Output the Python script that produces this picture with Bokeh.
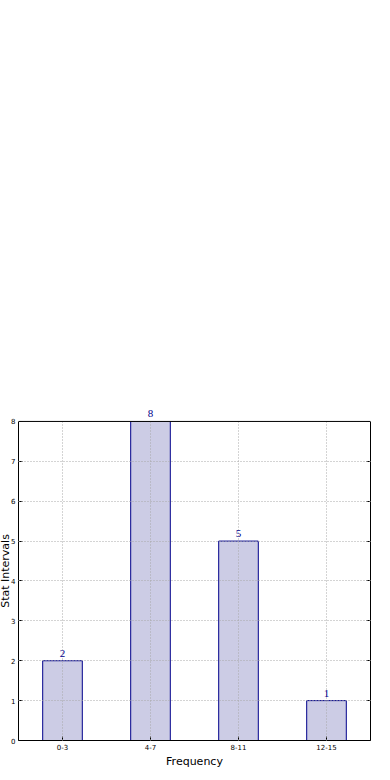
from bokeh.plotting import figure
from bokeh.models import (ColumnDataSource, LabelSet, LinearAxis, FixedTicker,
                          BoxAnnotation, Span)
from bokeh.embed import file_html
from bokeh.resources import INLINE

categories = ["0-3", "4-7", "8-11", "12-15"]
frequencies = [2, 8, 5, 1]
y_ticks = [0, 1, 2, 3, 4, 5, 6, 7, 8]
y_max = 8
x_title = "Frequency"
y_title = "Stat Intervals"

src = ColumnDataSource(dict(cat=categories, freq=frequencies,
                            lab=[str(v) for v in frequencies]))

FONT = "DejaVu Sans"
BAR_FILL = "#ccccE5"
BAR_EDGE = "#00008b"

# extra headroom above y_max so the value label over the tallest bar is not clipped
p = figure(x_range=categories, y_range=(0, y_max + 0.5), width=386, height=772,
           output_backend="svg", toolbar_location=None,
           min_border_left=19, min_border_right=12,
           min_border_top=401, min_border_bottom=32)
p.margin = (0, 0, 0, -4)
p.background_fill_color = "white"
p.border_fill_color = "white"
p.outline_line_color = None

p.vbar(x="cat", top="freq", width=0.45, source=src,
       fill_color=BAR_FILL, line_color=BAR_EDGE, line_width=1)

# grid
for g in (p.xgrid, p.ygrid):
    g.grid_line_color = "#a8a8a8"
    g.grid_line_dash = "1 2"
    g.grid_line_width = 1
    g.level = "guide"
p.ygrid.ticker = FixedTicker(ticks=y_ticks)

# axes
p.yaxis.ticker = FixedTicker(ticks=y_ticks)
p.yaxis.bounds = (0, y_max)
for ax in (p.xaxis[0], p.yaxis[0]):
    ax.major_tick_in = 4
    ax.major_tick_out = 0
    ax.minor_tick_line_color = None
    ax.major_tick_line_color = "black"
    ax.axis_line_color = "black"
    ax.major_label_text_font = FONT
    ax.major_label_text_font_size = "7px"
    ax.major_label_text_color = "black"
    ax.major_label_standoff = 3
    ax.axis_label_text_font = FONT
    ax.axis_label_text_font_size = "11px"
    ax.axis_label_text_font_style = "normal"
    ax.axis_label_text_color = "black"
    ax.axis_label_standoff = 2
p.xaxis.axis_label = x_title
p.yaxis.axis_label = y_title
p.yaxis.axis_label_standoff = -4

# right-hand ticks only (no labels drawn)
right = LinearAxis(ticker=FixedTicker(ticks=y_ticks), bounds=(0, y_max),
                   major_tick_in=4, major_tick_out=0,
                   minor_tick_line_color=None,
                   axis_line_color="black", major_label_text_font_size="0px",
                   major_label_text_color=None,
                   major_label_standoff=0)
p.add_layout(right, "right")

# blank the headroom above the frame top, then the frame top line
cover = BoxAnnotation(bottom=y_max, fill_color="white", fill_alpha=1,
                      line_color=None)
p.add_layout(cover)
top_line = Span(location=y_max, dimension="width", line_color="black",
                line_width=1)
p.add_layout(top_line)

labels = LabelSet(x="cat", y="freq", text="lab", source=src,
                  text_align="center", text_baseline="bottom", y_offset=4,
                  text_color=BAR_EDGE, text_font_size="11px",
                  text_font=FONT)
p.add_layout(labels)

open("out.html", "w").write(file_html(p, INLINE))
